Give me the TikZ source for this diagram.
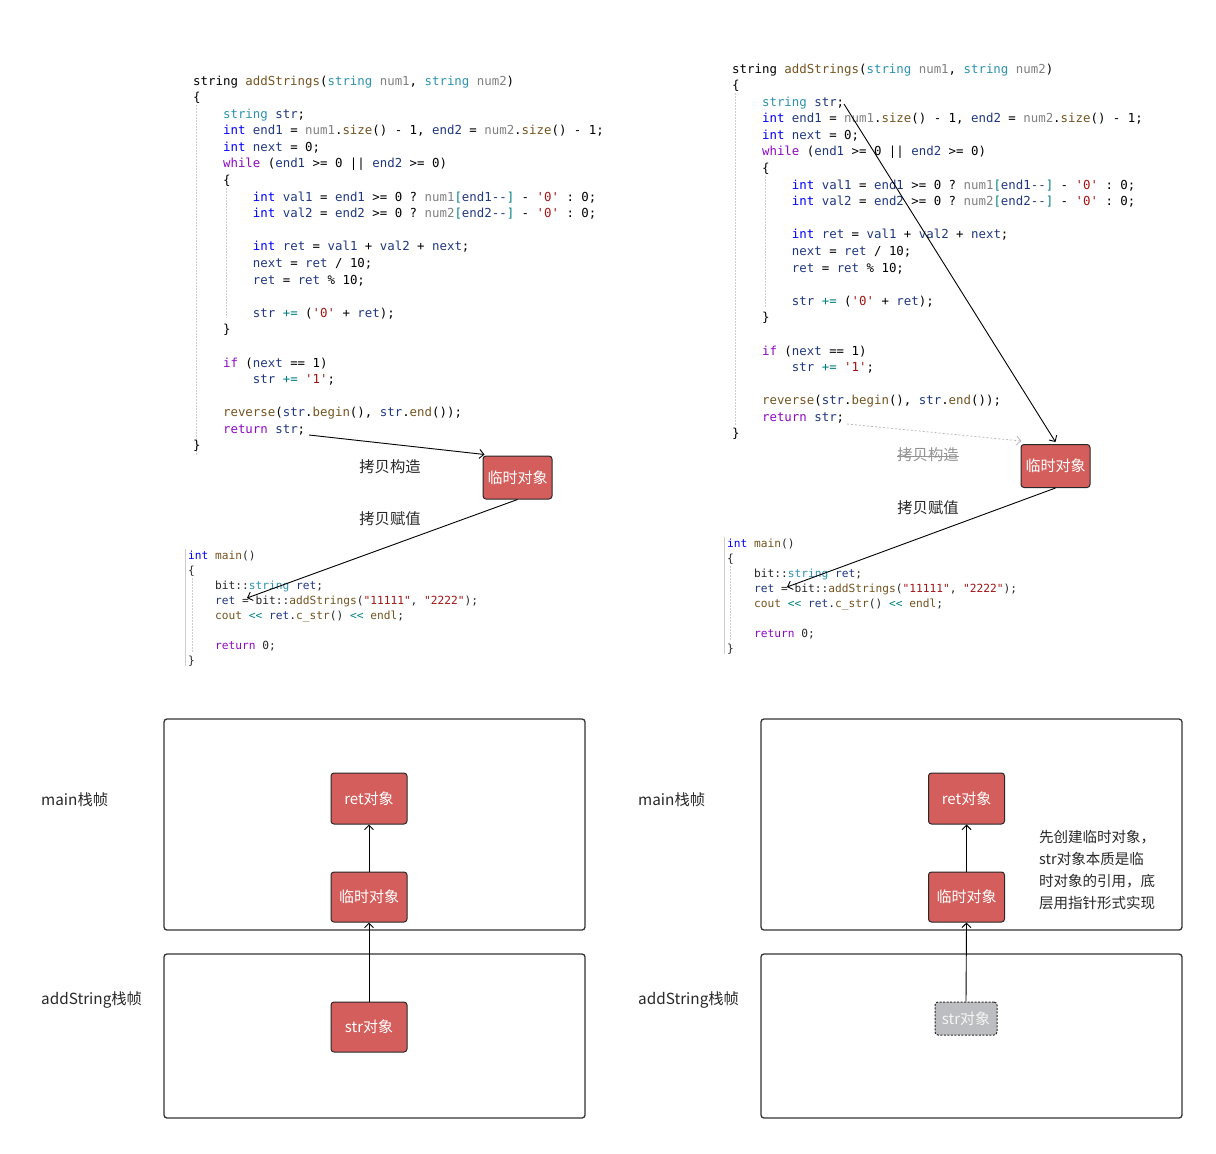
\documentclass[tikz,border=0pt]{standalone}
\usepackage{fontspec}
\setmainfont{Noto Sans CJK SC}
\setmonofont{DejaVu Sans Mono}
\usetikzlibrary{arrows.meta,calc}
\definecolor{ckw}{HTML}{0000FF}
\definecolor{cct}{HTML}{8F08C4}
\definecolor{cty}{HTML}{2B91AF}
\definecolor{cfn}{HTML}{74531F}
\definecolor{cpm}{HTML}{808080}
\definecolor{cvr}{HTML}{1F377F}
\definecolor{cch}{HTML}{A31515}
\definecolor{cop}{HTML}{008080}
\definecolor{objred}{RGB}{211,94,92}
\definecolor{ghostgray}{RGB}{187,189,192}
\definecolor{ink}{RGB}{40,40,40}
\definecolor{frameink}{RGB}{51,51,51}
\definecolor{guidegray}{RGB}{205,205,205}
\newcommand\Kw[1]{\textcolor{ckw}{#1}}
\newcommand\Ct[1]{\textcolor{cct}{#1}}
\newcommand\Ty[1]{\textcolor{cty}{#1}}
\newcommand\Fn[1]{\textcolor{cfn}{#1}}
\newcommand\Pm[1]{\textcolor{cpm}{#1}}
\newcommand\Vr[1]{\textcolor{cvr}{#1}}
\newcommand\Chr[1]{\textcolor{cch}{#1}}
\newcommand\Op[1]{\textcolor{cop}{#1}}
\newcommand\cbx{0}
\newcommand\cby{0}
\newcommand\cl[4]{\node[code] (#1) at ({\cbx+7.47*#2},{\cby+16.59*#3}) {#4};}
\newcommand\ml[4]{\node[mcode] (#1) at ({\cbx+6.75*#2},{\cby+15.1*#3}) {#4};}
\begin{document}
\begin{tikzpicture}[x=1pt,y=-1pt,
  code/.style={anchor=base west, inner sep=0pt, font=\ttfamily\fontsize{12.4}{14}\selectfont},
  mcode/.style={anchor=base west, inner sep=0pt, text=black!85, font=\ttfamily\fontsize{11.2}{13}\selectfont},
  frame/.style={draw=frameink, line width=1.3pt, rounded corners=3pt, inner sep=0pt},
  obj/.style={draw=ink, line width=1pt, fill=objred, rounded corners=3pt, text=white,
    font=\fontsize{15}{18}\selectfont, minimum width=76pt, minimum height=51pt, inner sep=0pt},
  tmpobj/.style={obj, minimum width=69pt, minimum height=43pt},
  ghost/.style={obj, fill=ghostgray, dashed, dash pattern=on 2pt off 1.5pt, text=white!92!gray,
    minimum width=62pt, minimum height=33pt},
  arr/.style={-{Straight Barb[length=4.5pt,width=9pt]}, line width=0.9pt, draw=black},
  lbl/.style={font=\fontsize{15.3}{18}\selectfont, text=ink, inner sep=0pt},
  note/.style={font=\fontsize{14.5}{18}\selectfont, text=ink, inner sep=0pt, anchor=base west},
  guide/.style={draw=guidegray, line width=0.7pt, dash pattern=on 1.5pt off 1.5pt}
]
\useasboundingbox (0,0) rectangle (1216,1154);

% ---------- indent guides ----------
\draw[guide] (196,105) -- (196,455);
\draw[guide] (226,188) -- (226,318);
\draw[guide] (735,93) -- (735,425);
\draw[guide] (765,176) -- (765,308);
\draw[draw=guidegray, line width=0.8pt] (185,549) -- (185,666);
\draw[guide] (192,578) -- (192,652);
\draw[draw=guidegray, line width=0.8pt] (724,537) -- (724,654);
\draw[guide] (730,566) -- (730,640);

% ---------- left code block ----------
\renewcommand\cbx{193}\renewcommand\cby{85}
\cl{a1}{0}{0}{string \Fn{addStrings}(\Ty{string} \Pm{num1}, \Ty{string} \Pm{num2})}
\cl{a2}{0}{1}{\{}
\cl{a3}{4}{2}{\Ty{string} \Vr{str};}
\cl{a4}{4}{3}{\Kw{int} \Vr{end1} = \Pm{num1}.\Fn{size}() - 1, \Vr{end2} = \Pm{num2}.\Fn{size}() - 1;}
\cl{a5}{4}{4}{\Kw{int} \Vr{next} = 0;}
\cl{a6}{4}{5}{\Ct{while} (\Vr{end1} >= 0 || \Vr{end2} >= 0)}
\cl{a7}{4}{6}{\{}
\cl{a8}{8}{7}{\Kw{int} \Vr{val1} = \Vr{end1} >= 0 ? \Pm{num1}\Op{[}\Vr{end1--}\Op{]} - \Chr{'0'} : 0;}
\cl{a9}{8}{8}{\Kw{int} \Vr{val2} = \Vr{end2} >= 0 ? \Pm{num2}\Op{[}\Vr{end2--}\Op{]} - \Chr{'0'} : 0;}
\cl{a11}{8}{10}{\Kw{int} \Vr{ret} = \Vr{val1} + \Vr{val2} + \Vr{next};}
\cl{a12}{8}{11}{\Vr{next} = \Vr{ret} / 10;}
\cl{a13}{8}{12}{\Vr{ret} = \Vr{ret} \% 10;}
\cl{a15}{8}{14}{\Vr{str} \Op{+=} (\Chr{'0'} + \Vr{ret});}
\cl{a16}{4}{15}{\}}
\cl{a18}{4}{17}{\Ct{if} (\Vr{next} == 1)}
\cl{a19}{8}{18}{\Vr{str} \Op{+=} \Chr{'1'};}
\cl{a21}{4}{20}{\Fn{reverse}(\Vr{str}.\Fn{begin}(), \Vr{str}.\Fn{end}());}
\cl{a22}{4}{21}{\Ct{return} \Vr{str};}
\cl{a23}{0}{22}{\}}

% ---------- right code block ----------
\renewcommand\cbx{732}\renewcommand\cby{73}
\cl{b1}{0}{0}{string \Fn{addStrings}(\Ty{string} \Pm{num1}, \Ty{string} \Pm{num2})}
\cl{b2}{0}{1}{\{}
\cl{b3}{4}{2}{\Ty{string} \Vr{str};}
\cl{b4}{4}{3}{\Kw{int} \Vr{end1} = \Pm{num1}.\Fn{size}() - 1, \Vr{end2} = \Pm{num2}.\Fn{size}() - 1;}
\cl{b5}{4}{4}{\Kw{int} \Vr{next} = 0;}
\cl{b6}{4}{5}{\Ct{while} (\Vr{end1} >= 0 || \Vr{end2} >= 0)}
\cl{b7}{4}{6}{\{}
\cl{b8}{8}{7}{\Kw{int} \Vr{val1} = \Vr{end1} >= 0 ? \Pm{num1}\Op{[}\Vr{end1--}\Op{]} - \Chr{'0'} : 0;}
\cl{b9}{8}{8}{\Kw{int} \Vr{val2} = \Vr{end2} >= 0 ? \Pm{num2}\Op{[}\Vr{end2--}\Op{]} - \Chr{'0'} : 0;}
\cl{b11}{8}{10}{\Kw{int} \Vr{ret} = \Vr{val1} + \Vr{val2} + \Vr{next};}
\cl{b12}{8}{11}{\Vr{next} = \Vr{ret} / 10;}
\cl{b13}{8}{12}{\Vr{ret} = \Vr{ret} \% 10;}
\cl{b15}{8}{14}{\Vr{str} \Op{+=} (\Chr{'0'} + \Vr{ret});}
\cl{b16}{4}{15}{\}}
\cl{b18}{4}{17}{\Ct{if} (\Vr{next} == 1)}
\cl{b19}{8}{18}{\Vr{str} \Op{+=} \Chr{'1'};}
\cl{b21}{4}{20}{\Fn{reverse}(\Vr{str}.\Fn{begin}(), \Vr{str}.\Fn{end}());}
\cl{b22}{4}{21}{\Ct{return} \Vr{str};}
\cl{b23}{0}{22}{\}}

% ---------- main code blocks ----------
\renewcommand\cbx{188}\renewcommand\cby{559}
\ml{m1}{0}{0}{\Kw{int} \Fn{main}()}
\ml{m2}{0}{1}{\{}
\ml{m3}{4}{2}{bit::\Ty{string} \Vr{ret};}
\ml{m4}{4}{3}{\Vr{ret} = bit::\Fn{addStrings}(\Chr{"11111"}, \Chr{"2222"});}
\ml{m5}{4}{4}{\Fn{cout} \Op{<<} \Vr{ret}.\Fn{c\_str}() \Op{<<} \Fn{endl};}
\ml{m7}{4}{6}{\Ct{return} 0;}
\ml{m8}{0}{7}{\}}
\renewcommand\cbx{727}\renewcommand\cby{547}
\ml{n1}{0}{0}{\Kw{int} \Fn{main}()}
\ml{n2}{0}{1}{\{}
\ml{n3}{4}{2}{bit::\Ty{string} \Vr{ret};}
\ml{n4}{4}{3}{\Vr{ret} = bit::\Fn{addStrings}(\Chr{"11111"}, \Chr{"2222"});}
\ml{n5}{4}{4}{\Fn{cout} \Op{<<} \Vr{ret}.\Fn{c\_str}() \Op{<<} \Fn{endl};}
\ml{n7}{4}{6}{\Ct{return} 0;}
\ml{n8}{0}{7}{\}}

% ---------- temporary objects (top) ----------
\node[tmpobj] (tmpA) at (517.5,477.5) {临时对象};
\node[tmpobj] (tmpB) at (1055.5,466) {临时对象};

\coordinate (retStrA) at (309,435);
\coordinate (assignA) at (247,598);
\draw[arr] (retStrA) -- ($(tmpA.north west)+(2,-1)$);
\draw[arr] (tmpA.south) -- (assignA);
\node[lbl] (copyCtorA) at (390,467) {拷贝构造};
\node[lbl] (copyAsgA) at (390,519) {拷贝赋值};

\coordinate (strDeclB) at (844,104);
\coordinate (retStrB) at (847,424);
\coordinate (assignB) at (787,587);
\draw[arr] (strDeclB) -- ($(tmpB.north)+(0,-2)$);
\draw[arr, draw=gray!55, dash pattern=on 2pt off 2pt, line width=0.8pt] (retStrB) -- ($(tmpB.north west)+(1,-3)$);
\draw[arr] (tmpB.south) -- (assignB);
\node[lbl, text=gray!85] (copyCtorB) at (928,455) {拷贝构造};
\draw[gray!85, line width=0.9pt] ($(copyCtorB.west)+(0,1)$) -- ($(copyCtorB.east)+(0,1)$);
\node[lbl] (copyAsgB) at (928,508) {拷贝赋值};

% ---------- stack frames (left) ----------
\node[frame, minimum width=421pt, minimum height=211pt] (mainL) at (374.5,824.5) {};
\node[frame, minimum width=421pt, minimum height=164pt] (addL) at (374.5,1036) {};
\node[lbl, anchor=west] (mainLblL) at (41,800) {main栈帧};
\node[lbl, anchor=west] (addLblL) at (41,1000) {addString栈帧};
\node[obj] (retL) at (369,798.5) {ret对象};
\node[obj, minimum height=50pt] (tmpL) at (369,897) {临时对象};
\node[obj, minimum height=50pt] (strL) at (369,1027) {str对象};
\draw[arr] (strL.north) -- (tmpL.south);
\draw[arr] (tmpL.north) -- (retL.south);

% ---------- stack frames (right) ----------
\node[frame, minimum width=421pt, minimum height=211pt] (mainR) at (971.5,824.5) {};
\node[frame, minimum width=421pt, minimum height=164pt] (addR) at (971.5,1036) {};
\node[lbl, anchor=west] (mainLblR) at (638,800) {main栈帧};
\node[lbl, anchor=west] (addLblR) at (638,1000) {addString栈帧};
\node[obj] (retR) at (966.5,798.5) {ret对象};
\node[obj, minimum height=50pt] (tmpR) at (966.5,897) {临时对象};
\node[ghost] (strR) at (966,1018.5) {str对象};
\draw[arr] (strR.north) -- (tmpR.south);
\draw[arr] (tmpR.north) -- (retR.south);

\node[note] (note1) at (1039,842) {先创建临时对象，};
\node[note] (note2) at (1039,864) {str对象本质是临};
\node[note] (note3) at (1039,886) {时对象的引用，底};
\node[note] (note4) at (1039,908) {层用指针形式实现};
\end{tikzpicture}
\end{document}
